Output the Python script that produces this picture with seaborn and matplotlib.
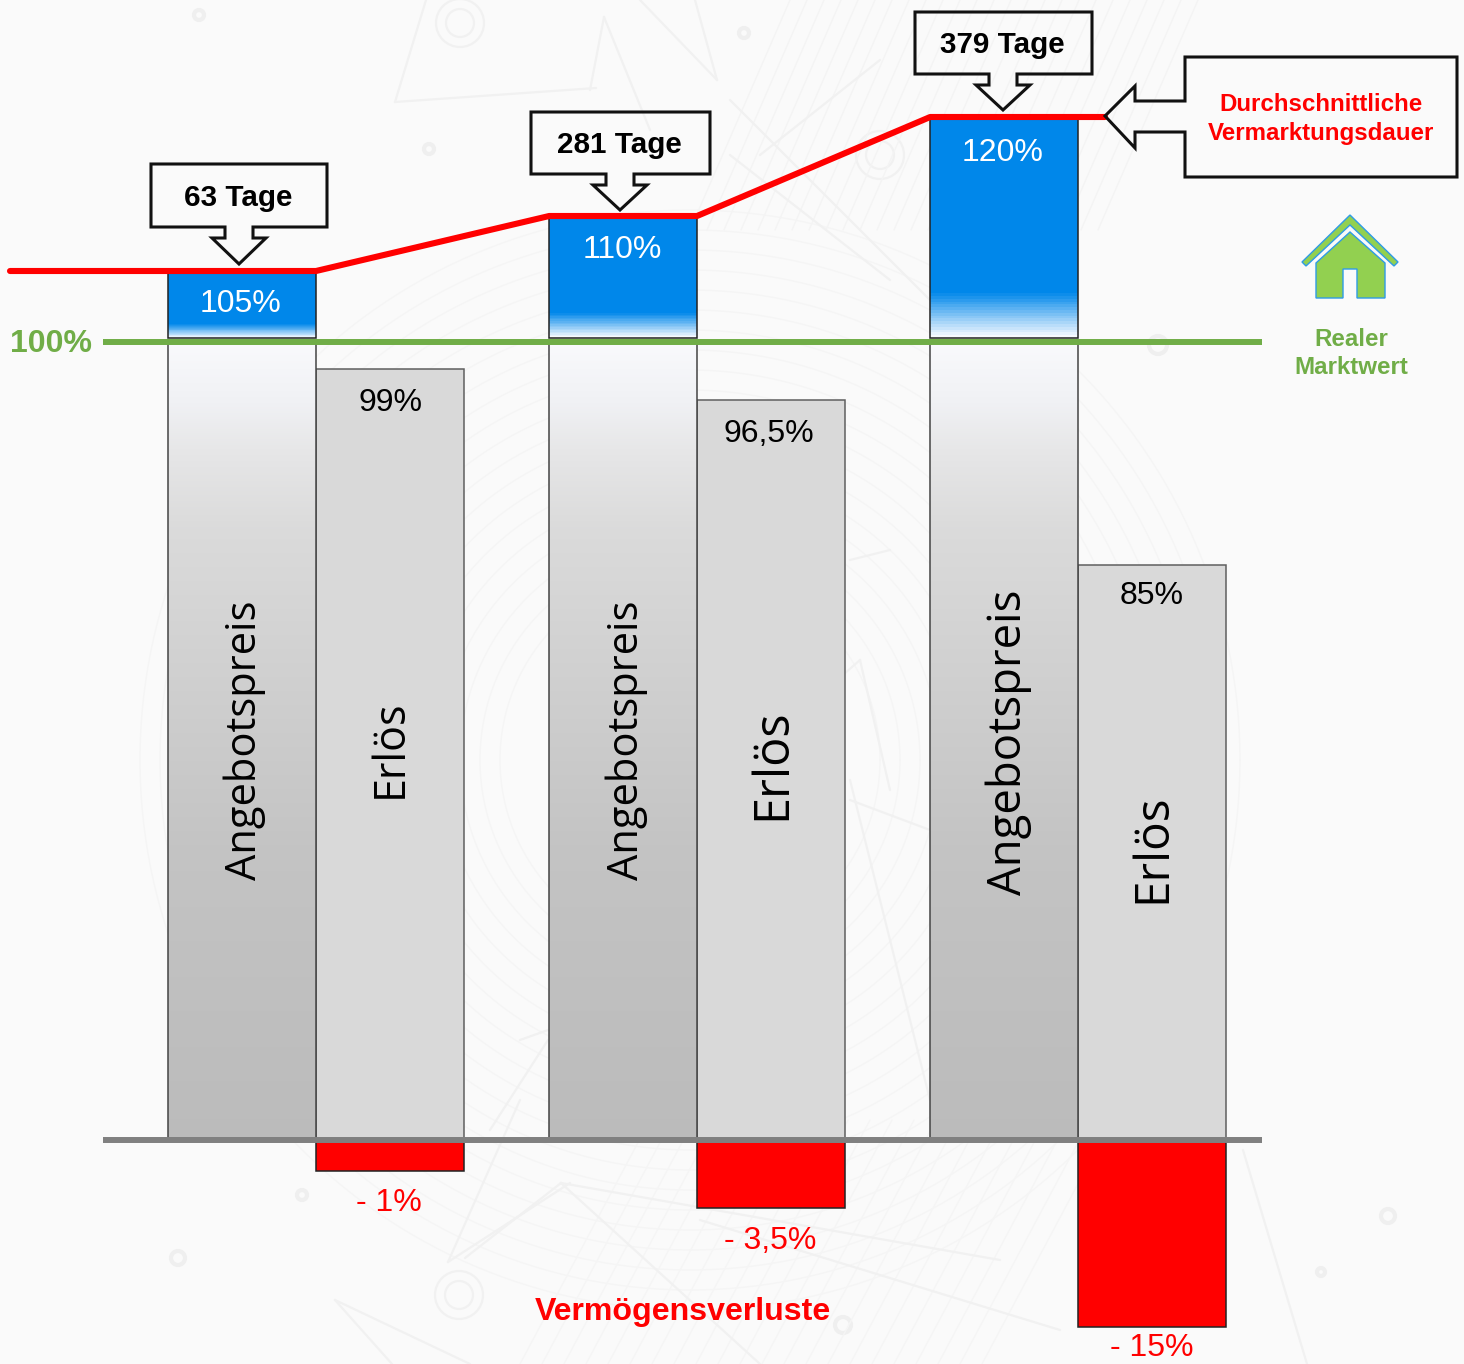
import numpy as np
import pandas as pd
import matplotlib
matplotlib.use("Agg")
import matplotlib.pyplot as plt
from matplotlib.patches import Polygon, Circle, Rectangle
import seaborn as sns

# Values in percent of the real market value
objects = ["Objekt A", "Objekt B", "Objekt C"]
offer_values = [105, 110, 120]
revenue_values = [99, 96.5, 85]
loss_values = [-1, -3.5, -15]
market_value = 100

# Labels
offer_labels = ["105%", "110%", "120%"]
revenue_labels = ["99%", "96,5%", "85%"]
loss_labels = ["- 1%", "- 3,5%", "- 15%"]
duration_labels = ["63 Tage", "281 Tage", "379 Tage"]

W, H = 1464, 1364
BG = "#fafafa"
RED = "#ff0000"
GREEN = "#70ad47"
BLUE = "#0087ea"

sns.set_theme(style="white")
plt.rcParams["font.family"] = ["Liberation Sans", "DejaVu Sans"]

fig = plt.figure(figsize=(W / 100, H / 100), dpi=100, facecolor=BG)

# Canvas in pixel units for the backdrop, call-outs and captions
def pixel_axes(z):
    a = fig.add_axes([0, 0, 1, 1], zorder=z)
    a.set_xlim(0, W)
    a.set_ylim(H, 0)
    a.axis("off")
    a.patch.set_alpha(0)
    return a

bg = pixel_axes(0)
fg = pixel_axes(3)

# Faint technical-drawing backdrop: concentric arcs, hatching, struts and rings
WM = "#f1f1f1"
for r in np.arange(190, 570, 20):
    t = np.linspace(0, 2 * np.pi, 240)
    bg.plot(690 + r * np.cos(t), 760 + r * np.sin(t), color="#f5f5f5", lw=1.0)
for x in np.arange(690, 1100, 17):
    bg.plot([x, x + 100], [230, 0], color="#f4f4f4", lw=1.0)
for x in np.arange(520, 1000, 22):
    bg.plot([x, x + 130], [1364, 1120], color="#f5f5f5", lw=1.0)
wm_lines = [
    [(335, 1300), (470, 1364)], [(335, 1300), (392, 1364)],
    [(448, 1262), (520, 1100)], [(448, 1262), (570, 1183)], [(465, 1258), (561, 1183)],
    [(561, 1183), (760, 1364)], [(561, 1183), (1000, 1260)],
    [(1243, 1150), (1307, 1364)], [(700, 1220), (1060, 1330)],
    [(395, 102), (596, 88)], [(395, 102), (426, 0)], [(604, 17), (650, 130)],
    [(604, 17), (590, 90)], [(640, 0), (717, 80)], [(695, 0), (717, 80)],
    [(730, 100), (930, 300)], [(760, 155), (880, 60)], [(730, 155), (890, 280)],
    [(860, 660), (700, 800)], [(860, 660), (890, 790)],
    [(850, 560), (890, 550)], [(850, 800), (930, 830)], [(850, 780), (930, 1100)],
    [(520, 1040), (548, 1030)], [(490, 1130), (548, 1040)],
]
for seg in wm_lines:
    bg.plot(*zip(*seg), color=WM, lw=1.6, solid_capstyle="round")
wm_rings = [(199, 15, 5), (744, 33, 5), (429, 149, 5), (178, 1258, 7), (302, 1195, 5),
            (1388, 1216, 7), (1321, 1272, 4), (843, 1325, 8), (1158, 345, 9)]
for cx, cy, r in wm_rings:
    bg.add_patch(Circle((cx, cy), r, fc="none", ec="#efefef", lw=3))
for cx, cy in [(460, 23), (459, 1295), (880, 155)]:
    for r in (14, 24):
        bg.add_patch(Circle((cx, cy), r, fc="none", ec=WM, lw=1.6))

# Main axes: percent scale with a stretched, piecewise axis
ax = fig.add_axes([0, 0, 1, 1], zorder=1)
ax.patch.set_alpha(0)

scale_pct = np.array([-20, -15, -3.5, -1, 0, 85, 96.5, 99, 100, 105, 110, 120, 132], float)
scale_px = np.array([1364, 1327, 1208, 1171, 1140, 565, 400, 369, 342, 271, 216, 117, 0], float)
scale_h = H - scale_px

def to_height(v):
    return np.interp(v, scale_pct, scale_h)

def to_pct(h):
    return np.interp(h, scale_h, scale_pct)

def pct_at_pixel(p):
    return to_pct(H - np.asarray(p, float))

# Bars through seaborn, grouped by object
kinds = ["Angebotspreis", "Erlös"]
df = pd.DataFrame({
    "Objekt": objects * 2,
    "Art": [kinds[0]] * 3 + [kinds[1]] * 3,
    "Wert": offer_values + revenue_values,
})
df_loss = pd.DataFrame({"Objekt": objects, "Art": [kinds[1]] * 3, "Wert": loss_values})

sns.barplot(data=df, x="Objekt", y="Wert", hue="Art", hue_order=kinds, order=objects,
            palette={kinds[0]: "#bbbbbb", kinds[1]: "#d9d9d9"}, width=0.776, gap=0,
            dodge=True, legend=False, ax=ax, zorder=2)
main_bars = [p for p in ax.patches if p.get_height() > 0]
offer_bars = sorted([p for p in main_bars if p.get_height() in offer_values], key=lambda p: p.get_x())
revenue_bars = sorted([p for p in main_bars if p not in offer_bars], key=lambda p: p.get_x())

sns.barplot(data=df_loss, x="Objekt", y="Wert", hue="Art", hue_order=kinds, order=objects,
            palette={kinds[0]: RED, kinds[1]: RED}, width=0.776, gap=0,
            dodge=True, legend=False, ax=ax, zorder=2)
loss_bars = [p for p in ax.patches if p.get_height() < 0]

for p in revenue_bars:
    p.set_edgecolor("#5f5f5f")
    p.set_linewidth(1.1)
for p in loss_bars:
    p.set_facecolor(RED)
    p.set_edgecolor("#222222")
    p.set_linewidth(1.1)

ax.set_yscale("function", functions=(to_height, to_pct))

# Offer bars: grey fade up to the market value, blue premium above it
grey_px = [343, 400, 450, 530, 850, 1100, 1140]
grey_lv = np.array([(.973, .976, .988), (.941, .945, .957), (.902, .902, .906), (.855, .855, .855),
                    (.765, .765, .765), (.737, .737, .737), (.733, .733, .733)])
GAP = 0.28
for p, val in zip(offer_bars, offer_values):
    p.set_visible(False)
    x0, x1 = p.get_x(), p.get_x() + p.get_width()

    rows = np.arange(343, 1141, 2.0)
    rgb = np.column_stack([np.interp(rows[:-1], grey_px, grey_lv[:, i]) for i in range(3)])
    ax.pcolormesh([x0, x1], pct_at_pixel(rows)[::-1], rgb[::-1, None, :], shading="flat", zorder=2)
    ax.add_patch(Rectangle((x0, 0), x1 - x0, market_value, fc="none", ec="#444444", lw=1.1, zorder=2.2))

    base = market_value + GAP
    top_px = to_height(val)
    base_px = to_height(base)
    hs = np.linspace(base_px, top_px, 80)
    frac = (hs[:-1] - base_px) / (top_px - base_px)
    w = np.clip(1 - frac / 0.2, 0, 1)[:, None]
    blue = np.array(matplotlib.colors.to_rgb(BLUE))
    rgb = blue * (1 - w) + np.array([0.97, 0.98, 1.0]) * w
    ax.pcolormesh([x0, x1], to_pct(hs), rgb[:, None, :], shading="flat", zorder=2)
    ax.add_patch(Rectangle((x0, base), x1 - x0, val - base, fc="none", ec="#222222", lw=1.1, zorder=2.2))

# Reference levels
unit = 381.0
x_of = lambda px: (px - 316.0) / unit
ax.hlines(0, x_of(103), x_of(1262), color="#808080", lw=4.3, zorder=3)
ax.hlines(market_value, x_of(103), x_of(1262), color=GREEN, lw=4.3, zorder=3)

# Marketing-time line running along the offer prices
line_x = [x_of(10)]
line_y = [offer_values[0]]
for p, val in zip(offer_bars, offer_values):
    line_x += [p.get_x(), p.get_x() + p.get_width()]
    line_y += [val, val]
line_x[1] = x_of(10)
line_x += [x_of(1105)]
line_y += [offer_values[-1]]
sns.lineplot(x=line_x, y=line_y, sort=False, estimator=None, color=RED, linewidth=4.4, ax=ax, zorder=4,
             legend=False)

ax.set_xlim(x_of(0), x_of(W))
ax.set_ylim(-20, 132)
ax.axis("off")

# Call-outs (outline only, the backdrop shows through)
def down_callout(x0, x1, y0, y1, tx, ty, text):
    pts = [(x0, y0), (x1, y0), (x1, y1), (tx + 14, y1), (tx + 14, y1 + 11), (tx + 27, y1 + 11),
           (tx, ty), (tx - 27, y1 + 11), (tx - 14, y1 + 11), (tx - 14, y1), (x0, y1)]
    fg.add_patch(Polygon(pts, closed=True, fc="none", ec="#111111", lw=2.2, joinstyle="miter"))
    fg.text((x0 + x1) / 2 - 1, (y0 + y1) / 2 + 2, text, ha="center", va="center",
            fontsize=21.3, fontweight="bold", color="black")

down_callout(151, 327, 164, 227, 239, 264, duration_labels[0])
down_callout(531, 710, 112, 174, 620, 210, duration_labels[1])
down_callout(915, 1092, 12, 74, 1003, 110, duration_labels[2])

fg.add_patch(Polygon([(1185, 57), (1457, 57), (1457, 177), (1185, 177), (1185, 132), (1135, 132),
                      (1135, 148), (1105, 116), (1135, 86), (1135, 101), (1185, 101)],
                     closed=True, fc="none", ec="#111111", lw=2.2, joinstyle="miter"))
fg.text(1321, 104.5, "Durchschnittliche", ha="center", va="center", fontsize=17.4, fontweight="bold", color=RED)
fg.text(1321, 133.5, "Vermarktungsdauer", ha="center", va="center", fontsize=17.4, fontweight="bold", color=RED)

# House pictogram
HOUSE = "#92d050"
HOUSE_EDGE = "#2e9be6"
fg.add_patch(Polygon([(1350, 215), (1398, 262), (1394, 266), (1350, 225), (1306, 266), (1302, 262)],
                     closed=True, fc=HOUSE, ec=HOUSE_EDGE, lw=1))
fg.add_patch(Polygon([(1350, 232), (1385, 263), (1385, 298), (1357, 298), (1357, 269), (1343, 269),
                      (1343, 298), (1316, 298), (1316, 263)],
                     closed=True, fc=HOUSE, ec=HOUSE_EDGE, lw=1))
fg.text(1351, 339, "Realer", ha="center", va="center", fontsize=17.4, fontweight="bold", color=GREEN)
fg.text(1351, 368, "Marktwert", ha="center", va="center", fontsize=17.4, fontweight="bold", color=GREEN)

fg.text(50.5, 344, "100%", ha="center", va="center", fontsize=23, fontweight="bold", color=GREEN)
fg.text(682.5, 1312, "Vermögensverluste", ha="center", va="center", fontsize=23.1, fontweight="bold", color=RED)

# Value labels
for (x, y), t in zip([(241, 304), (622, 250), (1003, 153)], offer_labels):
    fg.text(x, y, t, ha="center", va="center", fontsize=23, color="white")
for (x, y), t in zip([(391, 403), (769, 434), (1152, 596)], revenue_labels):
    fg.text(x, y, t, ha="center", va="center", fontsize=23, color="black")
for (x, y), t in zip([(389, 1203), (770, 1241), (1152, 1348)], loss_labels):
    fg.text(x, y, t, ha="center", va="center", fontsize=23, color=RED)

# Rotated bar captions
CAP = ["Open Sans", "DejaVu Sans"]
for x, y, size in [(245, 740, 30), (627, 740, 30), (1009, 742, 32.8)]:
    fg.text(x, y, kinds[0], rotation=90, ha="center", va="center", fontsize=size, family=CAP, color="black")
for x, y, size in [(391, 749, 31), (773, 764, 35), (1153, 848.5, 34.3)]:
    fg.text(x, y, kinds[1], rotation=90, ha="center", va="center", fontsize=size, family=CAP, color="black")

fig.savefig("out.png", dpi=100, facecolor=BG)
